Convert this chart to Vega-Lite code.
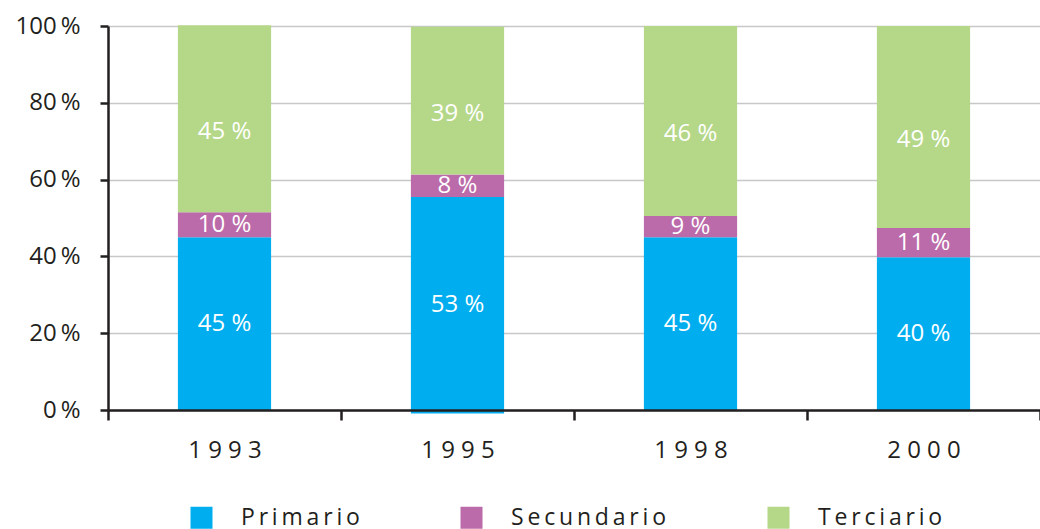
{
  "$schema": "https://vega.github.io/schema/vega-lite/v6.json",
  "width": 932,
  "height": 384,
  "autosize": "none",
  "padding": {"left": 108, "top": 26, "right": 0, "bottom": 119},
  "background": "white",
  "config": {"font": "Open Sans", "view": {"stroke": null}},
  "data": {
    "values": [
      {"year": "1993", "sector": "Primario", "lo": 0, "hi": 45, "label": "45 %"},
      {"year": "1993", "sector": "Secundario", "lo": 45, "hi": 51.5, "label": "10 %"},
      {"year": "1993", "sector": "Terciario", "lo": 51.5, "hi": 100.2, "label": "45 %"},
      {"year": "1995", "sector": "Primario", "lo": -0.9, "hi": 55.5, "label": "53 %"},
      {"year": "1995", "sector": "Secundario", "lo": 55.5, "hi": 61.3, "label": "8 %"},
      {"year": "1995", "sector": "Terciario", "lo": 61.3, "hi": 99.8, "label": "39 %"},
      {"year": "1998", "sector": "Primario", "lo": 0, "hi": 45, "label": "45 %"},
      {"year": "1998", "sector": "Secundario", "lo": 45, "hi": 50.5, "label": "9 %"},
      {"year": "1998", "sector": "Terciario", "lo": 50.5, "hi": 100, "label": "46 %"},
      {"year": "2000", "sector": "Primario", "lo": 0, "hi": 39.8, "label": "40 %"},
      {"year": "2000", "sector": "Secundario", "lo": 39.8, "hi": 47.4, "label": "11 %"},
      {"year": "2000", "sector": "Terciario", "lo": 47.4, "hi": 100, "label": "49 %"}
    ]
  },
  "layer": [
    {
      "mark": {"type": "bar", "width": {"band": 0.4}},
      "encoding": {
        "x": {
          "field": "year", "type": "nominal", "sort": null,
          "scale": {"paddingInner": 0, "paddingOuter": 0},
          "axis": {
            "title": null, "tickBand": "extent", "labelAngle": 0,
            "labelExpr": "join(split(datum.label, ''), ' ')",
            "labelFontSize": 24, "labelColor": "#231f20", "labelPadding": 18,
            "tickSize": 10, "tickWidth": 2.5, "tickColor": "#231f20",
            "domainColor": "#231f20", "domainWidth": 2.5, "grid": false, "zindex": 1
          }
        },
        "y": {
          "field": "lo", "type": "quantitative",
          "scale": {"domain": [0, 100], "nice": false},
          "axis": {
            "title": null, "values": [0, 20, 40, 60, 80, 100],
            "labelExpr": "datum.value + '\u2009%'",
            "labelFontSize": 24, "labelColor": "#231f20", "labelPadding": 20,
            "tickSize": 8, "tickWidth": 2.5, "tickColor": "#231f20",
            "domainColor": "#231f20", "domainWidth": 2.5,
            "grid": true, "gridColor": "#c8c8c8", "gridWidth": 1.5
          }
        },
        "y2": {"field": "hi"},
        "color": {
          "field": "sector", "type": "nominal",
          "scale": {"domain": ["Primario", "Secundario", "Terciario"], "range": ["#00aeef", "#bb6ba9", "#b4d788"]},
          "legend": {
            "title": null, "orient": "none", "legendX": 82, "legendY": 480,
            "direction": "horizontal", "padding": 0,
            "symbolType": "square", "symbolSize": 484, "symbolStrokeWidth": 0,
            "labelFontSize": 23, "labelColor": "#231f20", "labelOffset": 28,
            "columnPadding": 100,
            "labelExpr": "join(split(datum.label, ''), '\u2009')"
          }
        }
      }
    },
    {
      "transform": [
        {"filter": "datum.sector != 'Terciario'"},
        {"fold": ["lo", "hi"], "as": ["k", "v"]}
      ],
      "mark": {"type": "text", "color": "white", "fontSize": 24},
      "encoding": {
        "x": {"field": "year", "type": "nominal", "sort": null},
        "y": {"aggregate": "mean", "field": "v", "type": "quantitative", "title": null},
        "detail": {"field": "sector"},
        "text": {"field": "label"}
      }
    },
    {
      "transform": [
        {"filter": "datum.sector == 'Terciario'"},
        {"fold": ["lo", "hi"], "as": ["k", "v"]}
      ],
      "mark": {"type": "text", "color": "white", "fontSize": 24, "dy": 13},
      "encoding": {
        "x": {"field": "year", "type": "nominal", "sort": null},
        "y": {"aggregate": "mean", "field": "v", "type": "quantitative", "title": null},
        "detail": {"field": "sector"},
        "text": {"field": "label"}
      }
    }
  ]
}
